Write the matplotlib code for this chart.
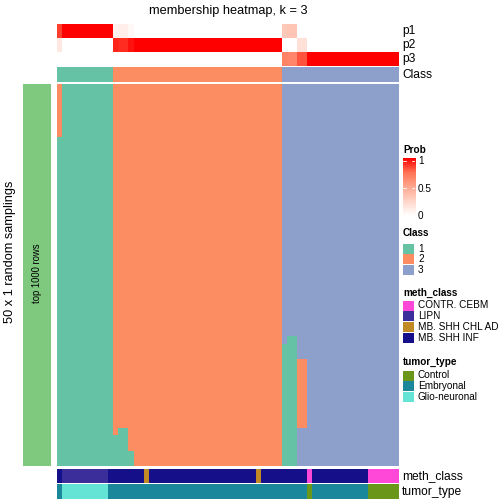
import numpy as np
import matplotlib
matplotlib.use('Agg')
import matplotlib.pyplot as plt
from matplotlib.colors import ListedColormap, LinearSegmentedColormap

plt.rcParams['font.family'] = ['Liberation Sans', 'DejaVu Sans']

# columns in plotted order (67 samples), 50 random samplings
n_rows = 50

p1 = [0.86] + [1.0]*10 + [0.08, 0.1, 0.1, 0.04] + [0.0]*29 + [0.32, 0.34, 0.34] + [0.0]*20
p2 = [0.14] + [0.0]*10 + [0.92, 0.9, 0.9, 0.96] + [1.0]*29 + [0.0]*3 + [0.18, 0.18] + [0.0]*18
p3 = [0.0]*44 + [0.68, 0.66, 0.66] + [0.82, 0.82] + [1.0]*18
classes = [1]*11 + [2]*33 + [3]*23

# rows where a column got another class in the samplings
flip_cols  = [0, 11, 12, 13, 14, 44, 45, 46, 47, 48]
flip_from  = [0, 46, 45, 45, 48, 34, 33, 33, 36, 36]
flip_to    = [7, 50, 50, 50, 50, 50, 50, 50, 45, 45]
flip_class = [2, 1, 1, 1, 1, 1, 1, 1, 2, 2]

meth_labels = ["MB. SHH INF", "LIPN", "MB. SHH INF", "MB. SHH CHL AD", "MB. SHH INF",
               "MB. SHH CHL AD", "MB. SHH INF", "CONTR. CEBM", "MB. SHH INF", "CONTR. CEBM"]
meth_lengths = [1, 9, 7, 1, 21, 1, 9, 1, 11, 6]
tumor_labels = ["Embryonal", "Glio-neuronal", "Embryonal", "Control", "Embryonal", "Control"]
tumor_lengths = [1, 9, 39, 1, 11, 6]

class_colors = ["#66C2A5", "#FC8D62", "#8DA0CB"]
meth_names = ["CONTR. CEBM", "LIPN", "MB. SHH CHL AD", "MB. SHH INF"]
meth_colors = ["#FF47D8", "#3B2E9A", "#C28A24", "#150F8A"]
tumor_names = ["Control", "Embryonal", "Glio-neuronal"]
tumor_colors = ["#6A9619", "#1B879A", "#64E4D4"]

prob_cmap = LinearSegmentedColormap.from_list(
    "prob", [(0, "#FFFFFF"), (0.25, "#FFD6CA"), (0.5, "#FFA890"), (0.75, "#FF7455"), (1, "#FF0000")])

W, H = 504, 504
fig = plt.figure(figsize=(7, 7), dpi=72)


def ax_at(x0, y0, x1, y1):
    ax = fig.add_axes([x0 / W, 1 - y1 / H, (x1 - x0) / W, (y1 - y0) / H])
    ax.set_axis_off()
    return ax


def strip(ax, idx, colors):
    ax.imshow(np.array(idx)[None, :], cmap=ListedColormap(colors), vmin=-0.5,
              vmax=len(colors) - 0.5, aspect='auto', interpolation='nearest')


x0, x1 = 57, 398
lab_fs = 12

# probability rows
for name, vals, (ya, yb) in [("p1", p1, (24, 38)), ("p2", p2, (38, 52)), ("p3", p3, (52, 66))]:
    ax = ax_at(x0, ya, x1, yb)
    ax.imshow(np.array(vals)[None, :], cmap=prob_cmap, vmin=0, vmax=1,
              aspect='auto', interpolation='nearest')
    fig.text(402 / W, 1 - (ya + yb) / 2 / H, name, fontsize=lab_fs, va='center', ha='left')

ax = ax_at(x0, 67, x1, 82)
strip(ax, [c - 1 for c in classes], class_colors)
fig.text(402 / W, 1 - 74.5 / H, "Class", fontsize=lab_fs, va='center', ha='left')

# main membership matrix
mat = np.tile(np.array(classes), (n_rows, 1))
for c, a, b, k in zip(flip_cols, flip_from, flip_to, flip_class):
    mat[a:b, c] = k
ax = ax_at(x0, 84, x1, 466)
ax.imshow(mat - 1, cmap=ListedColormap(class_colors), vmin=-0.5, vmax=2.5,
          aspect='auto', interpolation='nearest')

# bottom annotations
meth_idx = sum([[meth_names.index(l)] * n for l, n in zip(meth_labels, meth_lengths)], [])
tumor_idx = sum([[tumor_names.index(l)] * n for l, n in zip(tumor_labels, tumor_lengths)], [])
ax = ax_at(x0, 469, x1, 483)
strip(ax, meth_idx, meth_colors)
fig.text(402 / W, 1 - 476 / H, "meth_class", fontsize=lab_fs, va='center', ha='left')
ax = ax_at(x0, 484, x1, 499)
strip(ax, tumor_idx, tumor_colors)
fig.text(402 / W, 1 - 491.5 / H, "tumor_type", fontsize=lab_fs, va='center', ha='left')

# left side bar
ax = ax_at(23, 84, 51, 466)
ax.add_patch(plt.Rectangle((0, 0), 1, 1, color="#7FC97F"))
ax.set_xlim(0, 1)
ax.set_ylim(0, 1)
ax.text(0.5, 1 - (273.5 - 84) / 382, "top 1000 rows", rotation=90, ha='center', va='center', fontsize=9.5)
fig.text(10 / W, 1 - 252 / H, "50 x 1 random samplings", rotation=90,
         ha='center', va='center', fontsize=12.8)

fig.text(228 / W, 1 - 11 / H, "membership heatmap, k = 3", ha='center', va='center', fontsize=12.8)

# legends
lx = 403
leg_fs = 10
fig.text(lx / W, 1 - 150 / H, "Prob", fontsize=leg_fs, fontweight='bold', va='center')
ax = ax_at(lx, 158, 415, 216)
ax.imshow(np.linspace(1, 0, 100)[:, None], cmap=prob_cmap, vmin=0, vmax=1,
          aspect='auto', extent=(0, 1, 0, 1.05))
ax.set_xlim(0, 1)
ax.set_ylim(0, 1.05)
for v in [0.5, 1.0]:
    ax.plot([0, 0.25], [v, v], color='white', lw=0.8)
    ax.plot([0.75, 1], [v, v], color='white', lw=0.8)
for lab, y in [("1", 161), ("0.5", 189), ("0", 216)]:
    fig.text(418 / W, 1 - y / H, lab, fontsize=leg_fs, va='center')


def legend_block(title, ty, names, colors, y_first, step=10.8):
    fig.text(lx / W, 1 - ty / H, title, fontsize=leg_fs, fontweight='bold', va='center')
    for i, (n, c) in enumerate(zip(names, colors)):
        yc = y_first + i * step
        a = ax_at(lx, yc - 5, lx + 11, yc + 5)
        a.add_patch(plt.Rectangle((0, 0), 1, 1, color=c))
        a.set_xlim(0, 1)
        a.set_ylim(0, 1)
        fig.text(418 / W, 1 - yc / H, n, fontsize=leg_fs, va='center')


legend_block("Class", 233, ["1", "2", "3"], class_colors, 248.5)
legend_block("meth_class", 293, meth_names, meth_colors, 305.5)
legend_block("tumor_type", 362, tumor_names, tumor_colors, 375.5)

fig.savefig("out.png", dpi=72)
